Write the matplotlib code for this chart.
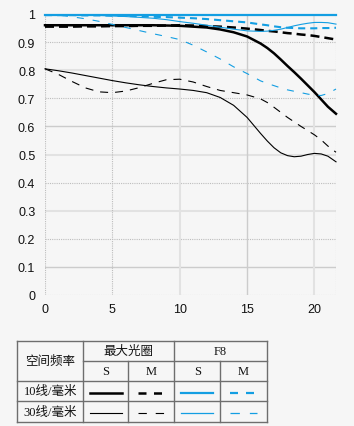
import numpy as np
import matplotlib.pyplot as plt
from matplotlib.lines import Line2D

# Distance from image centre (mm)
xs = [0, 1, 2, 3, 4, 5, 6, 7, 8, 9, 10, 11, 12, 13, 14, 15, 16, 16.5, 17, 17.5, 18, 18.5, 19, 19.5, 20, 20.5, 21, 21.6]

# Max aperture, black
s10_max = [0.96, 0.96, 0.96, 0.96, 0.96, 0.96, 0.96, 0.96, 0.96, 0.959, 0.958, 0.955, 0.952, 0.945, 0.935, 0.92,
           0.895, 0.879, 0.86, 0.838, 0.815, 0.793, 0.77, 0.746, 0.722, 0.696, 0.67, 0.645]
m10_max = [0.955, 0.955, 0.955, 0.956, 0.956, 0.957, 0.957, 0.958, 0.958, 0.959, 0.96, 0.959, 0.957, 0.955, 0.952, 0.948,
           0.943, 0.94, 0.938, 0.935, 0.932, 0.93, 0.927, 0.925, 0.922, 0.918, 0.914, 0.909]
s30_max = [0.805, 0.798, 0.79, 0.781, 0.772, 0.763, 0.755, 0.748, 0.742, 0.737, 0.733, 0.728, 0.72, 0.703, 0.675, 0.632,
           0.575, 0.548, 0.524, 0.506, 0.496, 0.492, 0.494, 0.5, 0.504, 0.502, 0.494, 0.474]
m30_max = [0.805, 0.785, 0.76, 0.737, 0.723, 0.72, 0.726, 0.738, 0.753, 0.766, 0.768, 0.758, 0.742, 0.728, 0.72, 0.712,
           0.698, 0.685, 0.668, 0.65, 0.632, 0.616, 0.6, 0.585, 0.57, 0.552, 0.53, 0.508]

# F8, blue
s10_f8 = [0.997] * 28
m10_f8 = [0.996, 0.996, 0.996, 0.995, 0.995, 0.994, 0.993, 0.992, 0.99, 0.989, 0.987, 0.985, 0.982, 0.978, 0.974, 0.97,
          0.963, 0.96, 0.956, 0.953, 0.951, 0.95, 0.949, 0.949, 0.949, 0.95, 0.95, 0.951]
s30_f8 = [0.998, 0.998, 0.997, 0.996, 0.995, 0.993, 0.991, 0.988, 0.985, 0.98, 0.973, 0.967, 0.96, 0.953, 0.946, 0.94,
          0.938, 0.939, 0.942, 0.946, 0.952, 0.958, 0.963, 0.967, 0.97, 0.97, 0.969, 0.964]
m30_f8 = [0.998, 0.996, 0.99, 0.983, 0.974, 0.963, 0.952, 0.941, 0.93, 0.92, 0.909, 0.889, 0.865, 0.84, 0.812, 0.788,
          0.762, 0.753, 0.745, 0.737, 0.73, 0.725, 0.72, 0.715, 0.711, 0.71, 0.717, 0.733]

y_ticks = [0, 0.1, 0.2, 0.3, 0.4, 0.5, 0.6, 0.7, 0.8, 0.9, 1.0]
y_labels = ['0', '0.1', '0.2', '0.3', '0.4', '0.5', '0.6', '0.7', '0.8', '0.9', '1']
x_ticks = [0, 5, 10, 15, 20]

row_labels = ['10线/毫米', '30线/毫米']
col_groups = ['最大光圈', 'F8']
sub_cols = ['S', 'M', 'S', 'M']

BG = '#f6f6f6'
BLUE = '#139ee2'

fig = plt.figure(figsize=(3.54, 4.27), dpi=100, facecolor=BG)
ax = fig.add_axes([45 / 354, 131 / 427, 291 / 354, 281 / 427])
ax.set_facecolor(BG)
ax.set_xlim(0, 21.6)
ax.set_ylim(0, 1)
for sp in ax.spines.values():
    sp.set_visible(False)

# grid: mix of dotted and solid lines like the original
dotted = dict(color='#bdbdbd', lw=0.8, ls=(0, (1, 1)))
light = dict(color='#e2e2e2', lw=1.5, ls='-')
gray = dict(color='#cccccc', lw=1.0, ls='-')
hstyles = [dotted, gray, dotted, light, dotted, light, gray, dotted, light, dotted, dotted]
for y, st in zip(y_ticks, hstyles):
    ax.axhline(y, zorder=0, **st)
vstyles = [dotted, dotted, light, gray, light]
for x, st in zip(x_ticks, vstyles):
    ax.axvline(x, zorder=0, **st)
ax.axvline(21.6, zorder=0, **dotted)

ax.set_yticks(y_ticks)
ax.set_yticklabels(y_labels)
ax.set_xticks(x_ticks)
ax.tick_params(length=0, labelsize=9, colors='#111111')
ax.tick_params(axis='y', pad=7)
ax.tick_params(axis='x', pad=6)
for lab in ax.get_xticklabels() + ax.get_yticklabels():
    lab.set_family('Liberation Sans')

ax.plot(xs, s30_max, color='black', lw=0.8, clip_on=False)
ax.plot(xs, m30_max, color='black', lw=0.8, dashes=(7.2, 6.3), clip_on=False)
ax.plot(xs, s10_max, color='black', lw=1.8, clip_on=False)
ax.plot(xs, m10_max, color='black', lw=1.8, dashes=(3.6, 2.0), clip_on=False)
ax.plot(xs, s30_f8, color=BLUE, lw=0.8, clip_on=False)
ax.plot(xs, m30_f8, color=BLUE, lw=0.8, dashes=(6.3, 8.1), clip_on=False)
ax.plot(xs, s10_f8, color=BLUE, lw=1.6, clip_on=False)
ax.plot(xs, m10_f8, color=BLUE, lw=1.5, dashes=(3.4, 2.4), clip_on=False)

# legend table drawn in pixel space
tax = fig.add_axes([0, 0, 1, 1])
tax.set_xlim(0, 354)
tax.set_ylim(427, 0)
tax.axis('off')
tax.patch.set_alpha(0)

cols = [17.3, 83.3, 128.3, 174.3, 220.3, 266.7]
rows = [342.3, 362.3, 382.3, 402.3, 423.0]
lc = dict(color='#6e6e6e', lw=1.0)
tax.plot([cols[0], cols[-1]], [rows[0]] * 2, **lc)
tax.plot([cols[1], cols[-1]], [rows[1]] * 2, **lc)
for r in rows[2:]:
    tax.plot([cols[0], cols[-1]], [r] * 2, **lc)
for c in [cols[0], cols[1], cols[3], cols[5]]:
    tax.plot([c, c], [rows[0], rows[-1]], **lc)
for c in [cols[2], cols[4]]:
    tax.plot([c, c], [rows[1], rows[-1]], **lc)

fam = ['Liberation Serif', 'Noto Sans CJK SC']
tk = dict(ha='center', va='center', fontsize=9, family=fam, color='#111111')
tax.text((cols[0] + cols[1]) / 2, rows[1], '空间频率', **tk)
tax.text((cols[1] + cols[3]) / 2, (rows[0] + rows[1]) / 2, col_groups[0], **tk)
tax.text((cols[3] + cols[5]) / 2, (rows[0] + rows[1]) / 2, col_groups[1], **tk)
for i, s in enumerate(sub_cols):
    tax.text((cols[i + 1] + cols[i + 2]) / 2, (rows[1] + rows[2]) / 2, s, **tk)
for j, lab in enumerate(row_labels):
    tax.text((cols[0] + cols[1]) / 2, (rows[j + 2] + rows[j + 3]) / 2, lab, **tk)

samples = [
    (1.8, 'black', None), (1.8, 'black', (3.2, 3.0)), (1.6, BLUE, None), (1.6, BLUE, (3.6, 3.6)),
    (0.8, 'black', None), (0.8, 'black', (7.5, 8.0)), (0.9, BLUE, None), (0.9, BLUE, (7.5, 8.0)),
]
for k, (lw, c, d) in enumerate(samples):
    j, i = divmod(k, 4)
    cx = (cols[i + 1] + cols[i + 2]) / 2
    y = (rows[j + 2] + rows[j + 3]) / 2 + 1.5
    half = 16 if d is None else 13.5
    ln = Line2D([cx - half, cx + half], [y, y], lw=lw, color=c)
    if d is not None:
        ln.set_dashes(d)
    tax.add_line(ln)

fig.savefig('out.png', dpi=100, facecolor=BG)
